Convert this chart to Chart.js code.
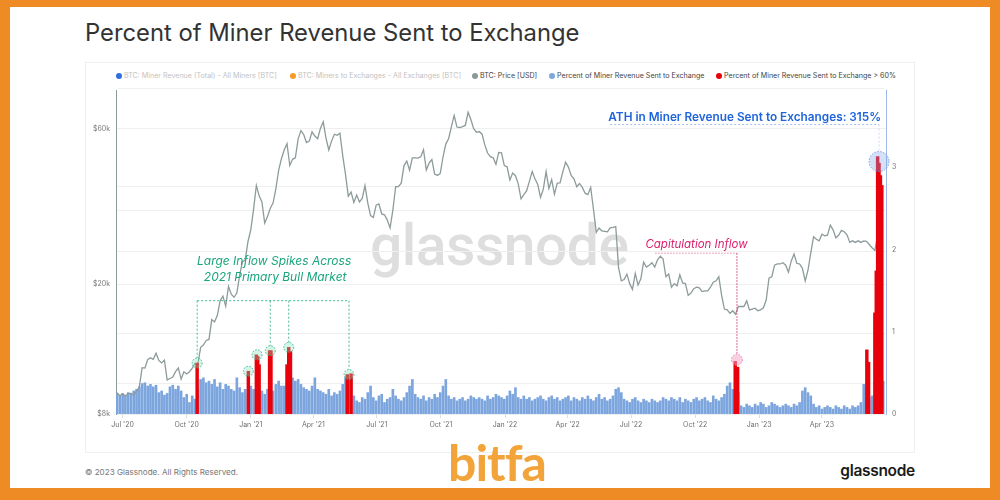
<!DOCTYPE html>
<html><head><meta charset="utf-8">
<script src="https://cdn.jsdelivr.net/npm/chart.js@4.4.0/dist/chart.umd.min.js"></script>
<style>
html,body{margin:0;padding:0;}
body{width:1000px;height:500px;background:#ee8b24;position:relative;overflow:hidden;font-family:Inter,Roboto,sans-serif;}
#card{position:absolute;left:10px;top:7px;width:980px;height:481px;background:#fff;}
#panel{position:absolute;left:85px;top:62px;width:830px;height:391px;border:1px solid #efefef;box-sizing:border-box;}
#legline{position:absolute;left:118px;top:88px;width:766px;height:1px;background:#efefef;}
#title{position:absolute;left:85px;top:18px;font-family:Inter,sans-serif;font-size:23.8px;line-height:29px;color:#333;white-space:nowrap;}
#wm{position:absolute;left:370px;top:216px;font-family:Roboto,sans-serif;font-size:57px;line-height:60px;color:#dedede;font-weight:500;letter-spacing:-0.5px;white-space:nowrap;}
.lg{position:absolute;top:71px;font-size:7.1px;line-height:10px;white-space:nowrap;color:#444;}
.lg i{position:absolute;left:-8px;top:2px;width:6px;height:6px;border-radius:50%;}
#copy{position:absolute;left:85px;top:466px;font-size:8.1px;line-height:12px;color:#777;white-space:nowrap;}
#gn{position:absolute;right:85px;top:461px;font-size:15.5px;line-height:20px;color:#1a1a1a;font-weight:600;letter-spacing:-0.3px;white-space:nowrap;}
#bitfa{position:absolute;left:447px;top:433px;width:100px;text-align:center;font-family:Lato,sans-serif;font-size:50px;line-height:58px;font-weight:700;color:#f2a33a;letter-spacing:-1px;white-space:nowrap;}
canvas{position:absolute;left:0;top:0;}
</style></head>
<body>
<div id="card"></div>
<div id="panel"></div>
<div id="title">Percent of Miner Revenue Sent to Exchange</div>
<div id="wm">glassnode</div>
<div class="lg" style="left:124px;color:#c2c2c2"><i style="background:#2e6fdc"></i>BTC: Miner Revenue (Total) - All Miners [BTC]</div>
<div class="lg" style="left:298px;color:#c2c2c2"><i style="background:#f59a23"></i>BTC: Miners to Exchanges - All Exchanges [BTC]</div>
<div class="lg" style="left:480px"><i style="background:#8c9999"></i>BTC: Price [USD]</div>
<div class="lg" style="left:557px"><i style="background:#7fa6de"></i>Percent of Miner Revenue Sent to Exchange</div>
<div class="lg" style="left:724px"><i style="background:#e8000b"></i>Percent of Miner Revenue Sent to Exchange &gt; 60%</div>
<div id="legline"></div>
<div id="copy">© 2023 Glassnode. All Rights Reserved.</div>
<div id="bitfa">bitfa</div>
<div id="gn">glassnode</div>
<canvas id="c" width="1000" height="500"></canvas>
<script>
// x values: days since 1 Jul 2020, one sample every 4 days
const startDay = -8, stepDays = 4;
// BTC price, thousand USD
const price = [
9.30,9.10,9.23,9.07,9.24,9.25,9.15,9.39,9.70,11.10,
11.07,11.75,11.90,11.77,12.29,11.68,11.48,11.71,10.17,10.28,
10.39,10.79,11.08,10.24,10.78,10.62,10.79,11.06,11.43,11.36,
12.82,13.03,13.45,13.55,15.59,15.33,16.07,17.80,18.40,17.15,
19.70,18.65,18.25,18.80,21.30,23.48,23.73,27.08,
29.40,33.99,40.25,37.39,35.79,30.83,32.29,34.26,35.51,39.26,
44.80,48.58,51.68,54.09,46.34,48.40,48.90,55.96,59.30,57.64,
54.52,55.05,58.80,57.06,56.00,60.20,63.10,56.20,51.70,55.05,
57.80,57.40,58.25,49.70,43.50,37.30,38.40,35.70,37.60,35.80,
36.70,40.20,35.50,32.50,32.10,35.00,35.30,32.90,32.70,31.50,
29.80,33.80,39.90,39.90,40.90,46.30,47.80,44.80,48.90,48.90,
48.80,49.30,51.80,44.90,47.10,48.30,43.60,43.20,43.80,49.20,
53.90,56.00,60.90,65.99,60.80,60.60,61.00,61.50,67.50,64.10,
60.10,58.60,58.90,57.80,53.60,50.60,49.30,48.90,46.70,50.80,
50.70,46.30,
45.90,41.80,43.90,43.10,40.70,36.60,37.70,38.70,41.40,44.40,
42.20,40.50,37.00,39.20,44.40,39.40,41.90,37.80,40.90,41.00,
44.30,47.40,45.80,43.20,42.20,39.90,40.80,39.70,38.10,37.70,
39.70,34.00,28.90,29.80,29.20,29.10,29.00,29.80,29.90,30.10,
22.50,20.50,20.70,21.50,20.10,19.30,21.60,19.90,20.80,23.40,
22.60,22.90,23.30,22.60,23.80,24.40,23.90,21.10,21.50,19.60,
20.10,19.80,21.40,20.20,20.10,18.50,18.80,19.40,19.60,19.50,
19.00,19.10,19.10,19.60,20.30,20.50,21.10,18.50,16.80,16.70,
16.30,16.60,16.20,17.10,17.10,17.10,17.80,16.70,16.80,16.90,
16.60,
16.70,16.95,17.90,20.90,21.10,22.90,23.10,23.10,23.30,22.90,
21.80,23.60,24.80,23.20,23.10,22.40,20.50,22.10,25.00,28.00,
27.50,27.20,28.50,28.20,28.30,30.40,29.40,27.80,28.30,29.30,
29.00,28.40,26.90,27.20,26.90,27.20,26.90,27.20,27.10,26.50,
25.90,25.40,28.30,30.50,30.10
];
// Percent of miner revenue sent to exchanges (1 = 100%)
const pct = [
0.24,0.22,0.25,0.23,0.26,0.25,0.28,0.30,0.33,0.37,
0.38,0.34,0.36,0.33,0.35,0.26,0.28,0.23,0.25,0.33,
0.35,0.30,0.34,0.28,0.20,0.24,0.14,0.22,0.18,0.30,
0.42,0.44,0.38,0.40,0.36,0.42,0.33,0.38,0.30,0.36,
0.34,0.30,0.28,0.44,0.32,0.26,0.30,0.24,0.34,0.30,
0.36,0.30,0.28,0.24,0.30,0.34,0.28,0.36,0.40,0.34,
0.34,0.38,0.40,0.44,0.40,0.42,0.36,0.32,0.30,0.28,
0.34,0.44,0.30,0.28,0.26,0.24,0.30,0.22,0.26,0.24,
0.28,0.36,0.44,0.42,0.44,0.22,0.16,0.14,0.20,0.18,
0.26,0.34,0.20,0.16,0.22,0.24,0.14,0.18,0.20,0.30,
0.22,0.18,0.16,0.20,0.26,0.34,0.42,0.24,0.20,0.18,
0.22,0.16,0.20,0.18,0.24,0.20,0.26,0.34,0.42,0.22,
0.18,0.20,0.16,0.18,0.20,0.16,0.18,0.22,0.20,0.18,
0.20,0.18,0.16,0.22,0.18,0.20,0.24,0.22,0.20,0.18,
0.22,0.28,0.24,0.32,0.20,0.18,0.22,0.18,0.20,0.16,
0.18,0.20,0.22,0.18,0.16,0.20,0.22,0.18,0.20,0.16,
0.18,0.20,0.22,0.16,0.20,0.18,0.16,0.20,0.18,0.22,
0.18,0.16,0.20,0.24,0.18,0.20,0.16,0.18,0.22,0.30,
0.32,0.26,0.18,0.16,0.14,0.18,0.20,0.16,0.14,0.18,
0.16,0.14,0.18,0.16,0.14,0.16,0.20,0.18,0.16,0.20,
0.18,0.16,0.20,0.14,0.18,0.16,0.14,0.18,0.20,0.16,
0.18,0.20,0.16,0.14,0.22,0.18,0.16,0.20,0.24,0.34,
0.38,0.30,0.28,0.26,0.10,0.08,0.12,0.10,0.08,0.12,
0.10,0.14,0.12,0.08,0.10,0.14,0.12,0.10,0.08,0.10,
0.12,0.10,0.08,0.12,0.10,0.14,0.28,0.32,0.26,0.22,
0.12,0.08,0.10,0.06,0.08,0.10,0.08,0.06,0.10,0.08,
0.06,0.10,0.08,0.06,0.10,0.08,0.10,0.14,0.36,0.34,
0.20,0.22,0.30,0.40,0.40,0.40
];
// days where the share exceeded the threshold (red bars)
const hotDays = [107,180.5,192,194,196,211,213,236,238.5,241,322.5,328,879.5,883,1068.5,1071,1080,1082,1084,1086,1088,1090];
const hotVals = [0.62,0.52,0.72,0.70,0.60,0.77,0.77,0.60,0.81,0.76,0.48,0.49,0.64,0.57,0.78,0.63,1.23,1.74,3.13,3.05,2.90,2.78];
const xTickDays = [0,92,184,274,365,457,549,639,730,822,914,1004];
const xTickLabels = ["Jul '20","Oct '20","Jan '21","Apr '21","Jul '21","Oct '21","Jan '22","Apr '22","Jul '22","Oct '22","Jan '23","Apr '23"];
const leftTicks = [8,9.9,14.1,20,25.3,33.7,40,60];
const leftTickLabels = ['$8k','','','$20k','','','','$60k'];
const rightTicks = [0,1,2,3];
// annotation anchors (day, value on right axis)
const greenDays = [107,180.5,193,212,238.5,325];
const greenVals = [0.62,0.52,0.72,0.77,0.81,0.48];
const greenLinked = [0,3,4,5];
const greenBracket = 1.378;
const capDay = 882, capVal = 0.66, capLineVal = 1.955, capLineStart = 764.6;
const athDay = 1086, athVal = 3.07, athLineVal = 3.52, athLineStart = 700;

const days = price.map((_, i) => startDay + stepDays * i);

function dashedCircle(ctx, x, y, r, fill, stroke) {
  ctx.beginPath(); ctx.arc(x, y, r, 0, Math.PI * 2);
  ctx.fillStyle = fill; ctx.fill();
  ctx.setLineDash([1.5, 1.5]); ctx.strokeStyle = stroke; ctx.lineWidth = 0.9; ctx.stroke();
}
function seg(ctx, x1, y1, x2, y2, color, dash) {
  ctx.beginPath(); ctx.setLineDash(dash); ctx.strokeStyle = color; ctx.lineWidth = 0.9;
  ctx.moveTo(x1, y1); ctx.lineTo(x2, y2); ctx.stroke();
}
const annot = {
  id: 'annot',
  afterDatasetsDraw(c) {
    const ctx = c.ctx, X = v => c.scales.x.getPixelForValue(v), Y = v => c.scales.yR.getPixelForValue(v);
    ctx.save();
    // green group
    const g = '#2fb38a', r = 5;
    const yb = Y(greenBracket);
    seg(ctx, X(greenDays[0]), yb, X(greenDays[greenDays.length - 1]), yb, g, [2, 2]);
    greenLinked.forEach(i => seg(ctx, X(greenDays[i]), yb, X(greenDays[i]), Y(greenVals[i]) - r, g, [2, 2]));
    greenDays.forEach((d, i) => dashedCircle(ctx, X(d), Y(greenVals[i]), r, 'rgba(130,225,190,0.35)', g));
    ctx.setLineDash([]);
    ctx.fillStyle = '#1aa57e'; ctx.font = 'italic 12px Inter'; ctx.textAlign = 'center'; ctx.textBaseline = 'middle';
    ctx.fillText('Large Inflow Spikes Across', X(217.5), Y(1.85));
    ctx.fillText('2021 Primary Bull Market', X(219), Y(1.667));
    // capitulation
    const p = '#d81f6c';
    const yc = Y(capLineVal);
    seg(ctx, X(capLineStart), yc, X(capDay), yc, 'rgba(216,31,108,0.6)', [1.5, 1.5]);
    seg(ctx, X(capDay), yc, X(capDay), Y(capVal) - 5.5, p, [1.5, 1.5]);
    dashedCircle(ctx, X(capDay), Y(capVal), 5.5, 'rgba(245,160,195,0.5)', '#e889b0');
    ctx.setLineDash([]);
    ctx.fillStyle = p; ctx.font = 'italic 11.5px Inter'; ctx.textAlign = 'center';
    ctx.fillText('Capitulation Inflow', X(824), Y(2.056));
    // ATH
    const b = '#9cb7e8';
    const ya = Y(athLineVal);
    seg(ctx, X(athLineStart), ya, X(athDay), ya, b, [2, 2]);
    seg(ctx, X(athDay), ya, X(athDay), Y(athVal) - 10, '#c8d6f0', [2, 2]);
    dashedCircle(ctx, X(athDay), Y(athVal), 10, 'rgba(130,165,235,0.35)', '#6f96e0');
    ctx.setLineDash([]);
    ctx.fillStyle = '#1f64dc'; ctx.font = '600 11.8px Inter'; ctx.textAlign = 'right';
    ctx.fillText('ATH in Miner Revenue Sent to Exchanges: 315%', X(1089), Y(3.61));
    ctx.restore();
  }
};

Chart.defaults.font.family = 'Inter';
Chart.defaults.font.size = 7;
Chart.defaults.color = '#777';

new Chart(document.getElementById('c'), {
  type: 'bar',
  data: {
    datasets: [
      { type: 'bar', label: 'Percent of Miner Revenue Sent to Exchange > 60%', yAxisID: 'yR',
        data: hotDays.map((d, i) => ({ x: d, y: hotVals[i] })),
        backgroundColor: '#e8000b', grouped: false, barThickness: 2.8, order: 0 },
      { type: 'line', label: 'BTC: Price [USD]', yAxisID: 'yL',
        data: days.map((d, i) => ({ x: d, y: price[i] })),
        borderColor: '#8d9b9b', borderWidth: 1.3, pointRadius: 0, tension: 0, order: 1 },
      { type: 'bar', label: 'Percent of Miner Revenue Sent to Exchange', yAxisID: 'yR',
        data: days.map((d, i) => ({ x: d, y: pct[i] })),
        backgroundColor: '#7ca5de', grouped: false, barThickness: 2, order: 2 }
    ]
  },
  options: {
    responsive: false, animation: false, events: [],
    layout: { padding: { top: 90, left: 0, right: 0, bottom: 0 } },
    plugins: { legend: { display: false }, tooltip: { enabled: false } },
    scales: {
      x: {
        type: 'linear', min: -9.5, max: 1096, offset: false,
        afterBuildTicks: s => { s.ticks = xTickDays.map(v => ({ value: v })); },
        afterFit: s => { s.height = 86; },
        ticks: { autoSkip: false, maxRotation: 0, minRotation: 0, padding: 3, color: '#6f6f6f',
                 callback: (v, i) => xTickLabels[i] },
        grid: { drawOnChartArea: false, drawTicks: true, tickLength: 4, color: '#dddddd', offset: false },
        border: { display: false }
      },
      yL: {
        type: 'logarithmic', position: 'left', min: 8, max: 79,
        afterBuildTicks: s => { s.ticks = leftTicks.map(v => ({ value: v })); },
        afterFit: s => { s.width = 116; },
        ticks: { padding: 6, color: '#777', callback: (v, i) => leftTickLabels[i] },
        grid: { color: '#efefef', drawTicks: false },
        border: { color: '#8d9b9b', width: 1 }
      },
      yR: {
        type: 'linear', position: 'right', min: 0, max: 3.94,
        afterBuildTicks: s => { s.ticks = rightTicks.map(v => ({ value: v })); },
        afterFit: s => { s.width = 114; },
        ticks: { padding: 6, color: '#777' },
        grid: { display: false, drawTicks: false },
        border: { color: '#9db8e6', width: 1 }
      }
    }
  },
  plugins: [annot]
});
</script>
</body></html>
